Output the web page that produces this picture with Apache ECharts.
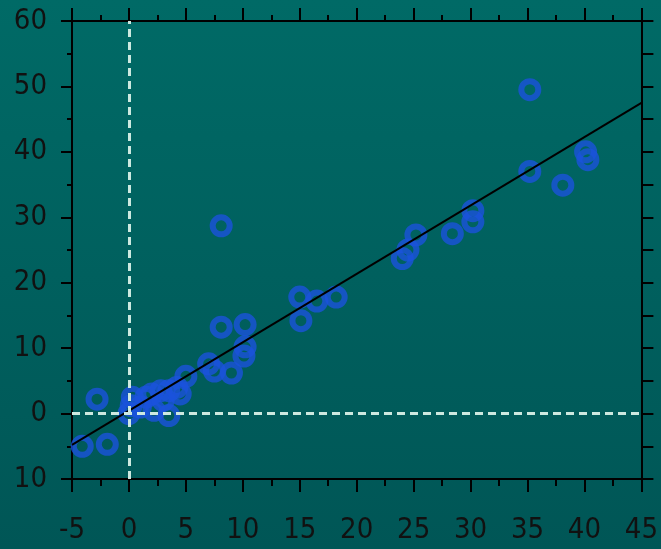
<!DOCTYPE html>
<html>
<head>
<meta charset="utf-8">
<script src="https://cdn.jsdelivr.net/npm/echarts@6/dist/echarts.min.js"></script>
<style>html,body{margin:0;padding:0;}#c{width:661px;height:549px;}</style>
</head>
<body>
<div id="c"></div>
<script>
var xValues = [-4.1,-1.9,-2.8,0,0.2,0.3,1,1.5,2,2.2,2.8,3,3.5,3.5,4.2,4.5,5,7,7.5,9,8.1,8.1,10.2,10.2,10.1,15,15.1,16.5,18.2,24,24.5,25.2,28.4,30.2,30.2,35.2,35.2,38.1,40.1,40.3];
var yValues = [-5,-4.7,2.2,0,1.2,2.5,1,2.5,3,0.5,3.5,2,-0.3,3.5,4,3,5.7,7.6,6.5,6.2,13.2,28.7,13.6,10.2,8.8,17.8,14.2,17.2,17.8,23.7,25,27.3,27.5,31,29.3,49.5,37,34.9,40,38.8];
var fitX = [-5, 45];
var fitY = [-4.8, 47.5];
var xTicks = [-5,0,5,10,15,20,25,30,35,40,45];
var yTicks = [-10,0,10,20,30,40,50,60];

var points = xValues.map(function(x,i){return [x, yValues[i]];});
var fitLine = fitX.map(function(x,i){return [x, fitY[i]];});

var font = '"DejaVu Sans Condensed", "Liberation Sans", sans-serif';
var chart = echarts.init(document.getElementById('c'));
var axisLine = {show:true, onZero:false, lineStyle:{color:'#000', width:2}};
chart.setOption({
  animation:false,
  backgroundColor:{type:'linear',x:0,y:0,x2:0,y2:1,colorStops:[{offset:0,color:'#006a66'},{offset:1,color:'#005656'}]},
  grid:{left:72,right:18,top:21,bottom:70},
  xAxis:[{
    type:'value', min:-5, max:45, interval:5, position:'bottom',
    axisLine:axisLine,
    axisTick:{show:true, length:13, lineStyle:{color:'#000', width:2}},
    minorTick:{show:true, splitNumber:2, length:7, lineStyle:{color:'#000', width:2}},
    splitLine:{show:false},
    axisLabel:{margin:37, color:'#111', fontFamily:font, fontSize:29,
      formatter:function(v){return xTicks.indexOf(v)>=0 ? String(v) : '';}}
  },{
    type:'value', min:-5, max:45, interval:5, position:'top',
    axisLine:axisLine,
    axisTick:{show:true, length:13, lineStyle:{color:'#000', width:2}},
    minorTick:{show:true, splitNumber:2, length:6, lineStyle:{color:'#000', width:2}},
    splitLine:{show:false}, axisLabel:{show:false}
  }],
  yAxis:[{
    type:'value', min:-10, max:60, interval:10, position:'left',
    axisLine:axisLine,
    axisTick:{show:true, length:11, lineStyle:{color:'#000', width:2}},
    minorTick:{show:true, splitNumber:2, length:5, lineStyle:{color:'#000', width:2}},
    splitLine:{show:false},
    axisLabel:{margin:25, color:'#111', fontFamily:font, fontSize:29,
      formatter:function(v){return yTicks.indexOf(v)>=0 ? String(Math.abs(v)) : '';}}
  },{
    type:'value', min:-10, max:60, interval:10, position:'right',
    axisLine:axisLine,
    axisTick:{show:true, length:12, lineStyle:{color:'#000', width:2}},
    minorTick:{show:true, splitNumber:2, length:12, lineStyle:{color:'#000', width:2}},
    splitLine:{show:false}, axisLabel:{show:false}
  }],
  series:[{
    type:'scatter', data:points, symbol:'circle', symbolSize:17,
    itemStyle:{color:'rgba(0,0,0,0)', borderColor:'#1a52dc', borderWidth:6},
    z:2
  },{
    type:'line', data:fitLine, symbol:'none', z:3,
    lineStyle:{color:'#000', width:2},
    markLine:{
      silent:true, symbol:'none', label:{show:false},
      lineStyle:{color:'#cde9e0', width:3, type:[8,5]},
      data:[{xAxis:0},{yAxis:0}]
    }
  }]
});
</script>
</body>
</html>
